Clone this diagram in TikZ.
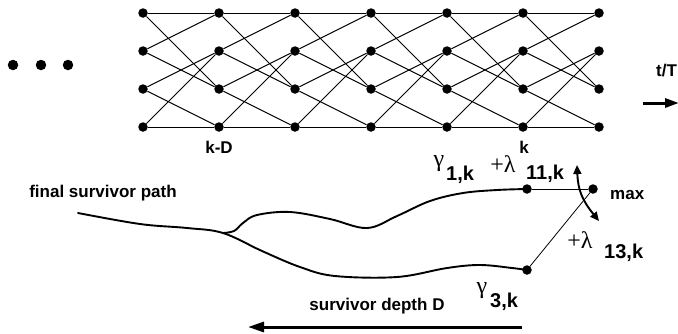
\documentclass[tikz,border=0pt]{standalone}
\usepackage{fontspec}
\setmainfont{Liberation Sans}
\newfontfamily\greekfont{Liberation Serif}
\usetikzlibrary{arrows.meta}

\begin{document}
\begin{tikzpicture}[x=1pt,y=-1pt,
  dot/.style={circle,fill=black,inner sep=0pt,minimum size=9.5pt},
  bigdot/.style={circle,fill=black,inner sep=0pt,minimum size=10.5pt},
  lbl/.style={font=\bfseries\fontsize{17}{20}\selectfont,inner sep=0pt},
  idx/.style={font=\bfseries\fontsize{20}{24}\selectfont,inner sep=0pt},
  sym/.style={font=\greekfont\fontsize{24}{28}\selectfont,inner sep=0pt},
  branch/.style={line width=1pt},
  survivor/.style={line width=1.9pt,line cap=round},
  link/.style={line width=0.8pt},
  fatarrow/.style={line width=3pt,-{Triangle[length=16pt,width=10pt]}},
]
\useasboundingbox (0,0) rectangle (678,333);

% leading dots
\node[bigdot] (e1) at (13,65) {};
\node[bigdot] (e2) at (41,65) {};
\node[bigdot] (e3) at (68,65) {};

% trellis states
\foreach \c in {0,...,6}
  \foreach \r in {0,...,3}
    \node[dot] (n\c\r) at ({143+76*\c},{13+38*\r}) {};

% trellis branches
\foreach \c/\d in {0/1,1/2,2/3,3/4,4/5,5/6} {
  \draw[branch] (n\c0) -- (n\d0);
  \draw[branch] (n\c0) -- (n\d2);
  \draw[branch] (n\c1) -- (n\d0);
  \draw[branch] (n\c1) -- (n\d2);
  \draw[branch] (n\c2) -- (n\d1);
  \draw[branch] (n\c2) -- (n\d3);
  \draw[branch] (n\c3) -- (n\d1);
  \draw[branch] (n\c3) -- (n\d3);
}

\node[lbl] (kD) at (219,147) {k-D};
\node[lbl] (kk) at (524,147) {k};

% time axis
\node[lbl,anchor=west] (tT) at (656,71) {t/T};
\coordinate (ta) at (643,103);
\coordinate (tb) at (679,103);
\draw[fatarrow,-{Triangle[length=14pt,width=9pt]}] (ta) -- (tb);

% survivor paths
\node[dot] (p1) at (527,189) {};
\node[dot] (p3) at (527,270) {};
\node[dot] (pm) at (593,189) {};
\coordinate (start) at (78,213);
\coordinate (fork) at (223,233);

\draw[survivor] plot[smooth,tension=0.6] coordinates {(start) (140,224) (187,228) (fork)
  (262,251) (300,267) (335,276) (397,277) (447,268) (480,265) (512,268) (p3.center)};
\draw[survivor] plot[smooth,tension=0.6] coordinates {(fork) (234,231) (243,223) (257,215)
  (290,212) (330,219) (367,228) (397,216) (430,201) (463,193) (497,190) (p1.center)};

\draw[link] (p1) -- (pm);
\draw[link] (p3) -- (pm);

% compare-select arrow
\coordinate (ca) at (577,165);
\coordinate (cb) at (599,221);
\draw[survivor,{Triangle[length=9pt,width=8pt]}-{Triangle[length=9pt,width=8pt]}]
  (ca) .. controls (578,190) and (582,200) .. (cb);

% metric labels
\node[sym] (g1) at (439,164) {γ};
\node[idx,anchor=west] (g1i) at (446,175) {1,k};
\node[sym] (l1) at (503,164) {+λ};
\node[idx,anchor=west] (l1i) at (526,174) {11,k};
\node[lbl,anchor=west] (mx) at (610,195) {max};
\node[sym] (l3) at (580,240) {+λ};
\node[idx,anchor=west] (l3i) at (604,253) {13,k};
\node[sym] (g3) at (482,291) {γ};
\node[idx,anchor=west] (g3i) at (490,302) {3,k};

\node[lbl] (fsp) at (103,193) {final survivor path};
\node[lbl] (sd) at (377,306) {survivor depth D};
\coordinate (da) at (522,327);
\coordinate (db) at (248,327);
\draw[fatarrow] (da) -- (db);
\end{tikzpicture}
\end{document}
